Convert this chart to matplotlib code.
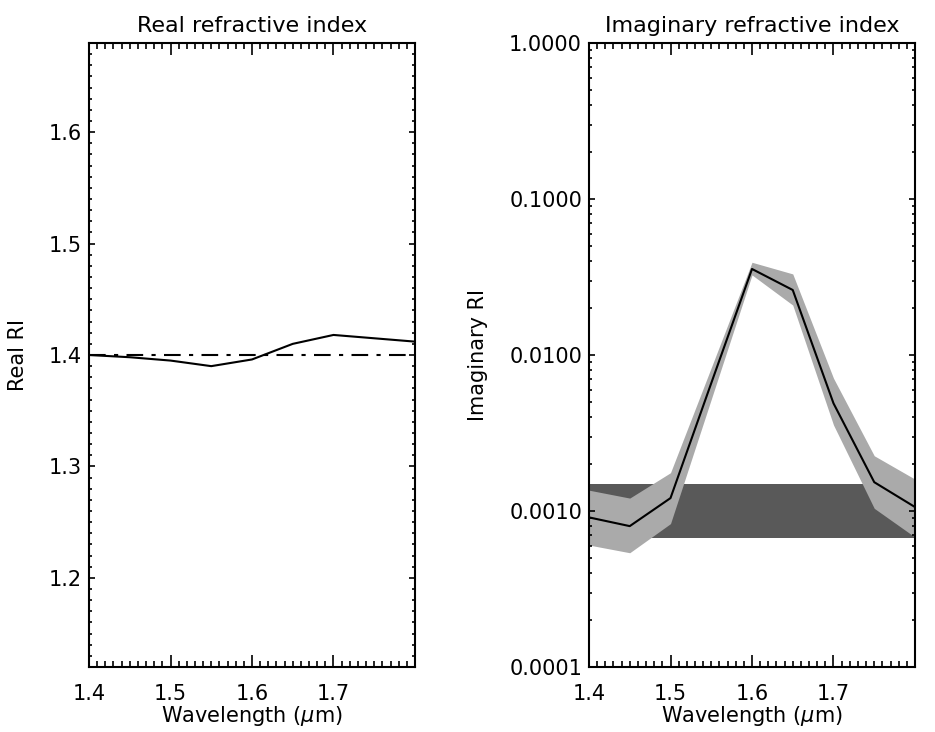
import numpy as np
import matplotlib
matplotlib.use("Agg")
import matplotlib.pyplot as plt
from matplotlib.ticker import MultipleLocator, FixedLocator, LogLocator, NullFormatter, FormatStrFormatter

# Wavelength grid (micron)
wavelength = [1.40, 1.45, 1.50, 1.55, 1.60, 1.65, 1.70, 1.75, 1.80]

# Real refractive index: retrieved and reference value
real_ri = [1.400, 1.398, 1.395, 1.390, 1.396, 1.410, 1.418, 1.415, 1.412]
real_ref = 1.40

# Imaginary refractive index: retrieved value and uncertainty envelope
imag_ri = [9.1e-4, 8.0e-4, 1.21e-3, 6.6e-3, 0.0356, 0.0261, 4.9e-3, 1.53e-3, 1.06e-3]
imag_hi = [1.36e-3, 1.21e-3, 1.76e-3, 8.3e-3, 0.0393, 0.0331, 7.1e-3, 2.26e-3, 1.60e-3]
imag_lo = [6.05e-4, 5.4e-4, 8.3e-4, 5.2e-3, 0.0326, 0.0209, 3.56e-3, 1.04e-3, 6.8e-4]

# a priori range of the imaginary index
prior_lo = 6.7e-4
prior_hi = 1.49e-3

plt.rcParams["font.family"] = "DejaVu Sans"
fs = 15

fig = plt.figure(figsize=(9.35, 7.32), dpi=100)
ax1 = fig.add_axes([89 / 935, 65 / 732, 326 / 935, 624 / 732])
ax2 = fig.add_axes([589 / 935, 65 / 732, 326 / 935, 624 / 732])


def style(ax):
    for s in ax.spines.values():
        s.set_linewidth(1.5)
    ax.tick_params(which="both", direction="in", top=True, right=True,
                   labelsize=fs, width=1.2)
    ax.tick_params(axis="x", which="major", length=8.5, pad=12)
    ax.tick_params(axis="x", which="minor", length=4.3)
    ax.tick_params(axis="y", which="major", length=4.5, pad=5)
    ax.tick_params(axis="y", which="minor", length=2.2)
    ax.set_xlim(1.4, 1.8)
    ax.xaxis.set_major_locator(FixedLocator([1.4, 1.5, 1.6, 1.7]))
    ax.xaxis.set_minor_locator(MultipleLocator(0.01))
    ax.set_xlabel("Wavelength ($\\mu$m)", fontsize=fs, labelpad=0)


# left panel
ax1.plot(wavelength, real_ri, color="black", lw=1.5)
ax1.axhline(real_ref, color="black", lw=1.5, ls=(0, (8, 4, 2, 4)))
ax1.set_ylim(1.12, 1.68)
ax1.yaxis.set_major_locator(FixedLocator([1.2, 1.3, 1.4, 1.5, 1.6]))
ax1.yaxis.set_minor_locator(MultipleLocator(0.01))
ax1.yaxis.set_major_formatter(FormatStrFormatter("%.1f"))
ax1.set_ylabel("Real RI", fontsize=fs)
ax1.yaxis.set_label_coords(-0.187, 0.5)
ax1.set_title("Real refractive index", fontsize=fs + 1, pad=8)
style(ax1)

# right panel
ax2.fill_between([wavelength[0], wavelength[-1]], prior_lo, prior_hi,
                 color="#595959", lw=0)
ax2.fill_between(wavelength, imag_lo, imag_hi, color="#aaaaaa", lw=0)
ax2.plot(wavelength, imag_ri, color="black", lw=1.5)
ax2.set_yscale("log")
ax2.set_ylim(1e-4, 1.0)
ax2.yaxis.set_major_locator(FixedLocator([1e-4, 1e-3, 1e-2, 1e-1, 1.0]))
ax2.yaxis.set_minor_locator(LogLocator(base=10, subs=np.arange(2, 10)))
ax2.yaxis.set_minor_formatter(NullFormatter())
ax2.yaxis.set_major_formatter(FormatStrFormatter("%.4f"))
ax2.set_ylabel("Imaginary RI", fontsize=fs)
ax2.yaxis.set_label_coords(-0.31, 0.5)
ax2.set_title("Imaginary refractive index", fontsize=fs + 1, pad=8)
style(ax2)

fig.savefig("out.png", dpi=100)
